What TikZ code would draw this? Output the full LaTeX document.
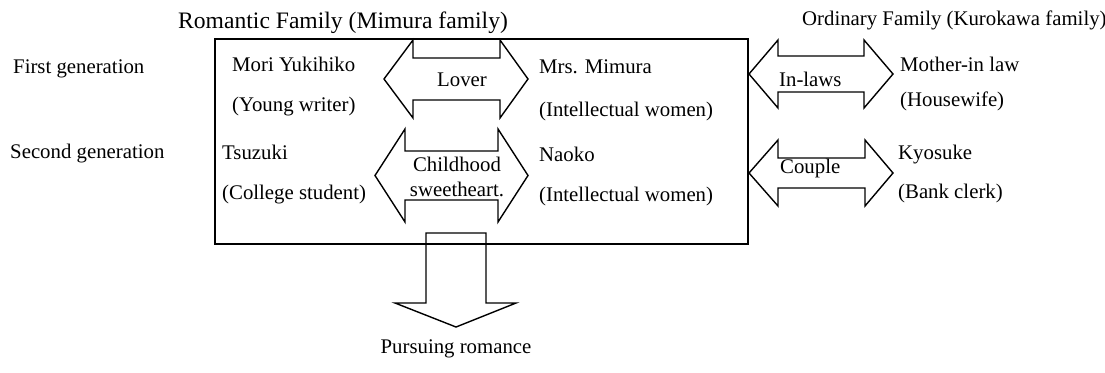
\documentclass[tikz,border=0pt]{standalone}
\usepackage{fontspec}
\setmainfont{Liberation Serif}
\begin{document}
\begin{tikzpicture}[x=1pt,y=-1pt,
  lbl/.style={anchor=base west, inner sep=0pt, font=\fontsize{20.8}{24}\selectfont},
  clbl/.style={anchor=base, inner sep=0pt, font=\fontsize{20.8}{24}\selectfont},
  blk/.style={draw, line width=1.4pt, line join=miter},
  frame/.style={draw, line width=1.4pt}]
\useasboundingbox (0,0) rectangle (1105,372);
% Mimura family frame
\draw[frame] (215,39) rectangle (748,244);
% block arrows
\draw[blk] (384,79) -- (413,40) -- (413,58) -- (500,58) -- (500,40) -- (528,79)
  -- (500,118) -- (500,100) -- (413,100) -- (413,118) -- cycle;
\draw[blk] (375,175.5) -- (405,129) -- (405,151) -- (498,151) -- (498,129) -- (528,175.5)
  -- (498,222) -- (498,200) -- (405,200) -- (405,222) -- cycle;
\draw[blk] (749,74) -- (778,40) -- (778,56) -- (864,56) -- (864,40) -- (893,74)
  -- (864,108) -- (864,92) -- (778,92) -- (778,108) -- cycle;
\draw[blk] (749,173) -- (778,140) -- (778,158) -- (865,158) -- (865,140) -- (893,173)
  -- (865,206) -- (865,188) -- (778,188) -- (778,206) -- cycle;
\draw[blk] (426,233) -- (486,233) -- (486,303) -- (516,303) -- (456,327)
  -- (395,303) -- (426,303) -- cycle;
% headings
\node[lbl, font=\fontsize{23.6}{27}\selectfont] (romantic) at (178,28) {Romantic Family (Mimura family)};
\node[lbl] (ordinary) at (802,25) {Ordinary Family (Kurokawa family)};
\node[lbl] (gen1) at (13,73) {First generation};
\node[lbl] (gen2) at (10,158) {Second generation};
% Mimura family members
\node[lbl] (mori) at (232,71) {Mori Yukihiko};
\node[lbl] (moriR) at (232,111) {(Young writer)};
\node[lbl] (tsuzuki) at (222,159) {Tsuzuki};
\node[lbl] (tsuzukiR) at (222,199) {(College student)};
\node[lbl] (mimura) at (539,73) {Mrs. Mimura};
\node[lbl] (mimuraR) at (539,116) {(Intellectual women)};
\node[lbl] (naoko) at (539,161) {Naoko};
\node[lbl] (naokoR) at (539,201) {(Intellectual women)};
% Kurokawa family members
\node[lbl] (mother) at (900,71) {Mother-in law};
\node[lbl] (motherR) at (900,106) {(Housewife)};
\node[lbl] (kyosuke) at (898,159) {Kyosuke};
\node[lbl] (kyosukeR) at (898,198) {(Bank clerk)};
% arrow labels
\node[clbl] (lover) at (462,86) {Lover};
\node[clbl] (child1) at (457,171) {Childhood};
\node[clbl] (child2) at (457,196) {sweetheart.};
\node[lbl] (inlaws) at (779,86) {In-laws};
\node[lbl] (couple) at (780,173) {Couple};
\node[clbl] (pursue) at (456,353) {Pursuing romance};
\end{tikzpicture}
\end{document}
